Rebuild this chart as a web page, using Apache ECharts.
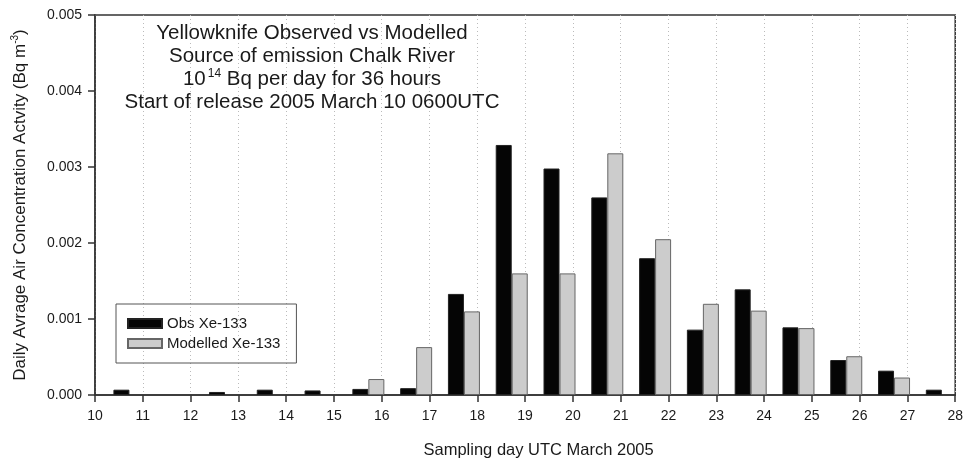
<!DOCTYPE html>
<html>
<head>
<meta charset="utf-8">
<script src="https://cdn.jsdelivr.net/npm/echarts@6/dist/echarts.min.js"></script>
<style>html,body{margin:0;padding:0;background:#fff}#c{width:966px;height:464px}</style>
</head>
<body>
<div id="c"></div>
<script>
// Sampling days (March 2005) and daily average Xe-133 concentrations (Bq m^-3)
var days = [10, 11, 12, 13, 14, 15, 16, 17, 18, 19, 20, 21, 22, 23, 24, 25, 26, 27];
var obsXe133 = [0.00007, 0, 0.00004, 0.00007, 0.00006, 0.00008, 0.00009, 0.00133, 0.00329, 0.00298, 0.0026, 0.0018, 0.00086, 0.00139, 0.00089, 0.00046, 0.00032, 0.00007];
var modelXe133 = [0, 0, 0, 0, 0, 0.00021, 0.00063, 0.0011, 0.0016, 0.0016, 0.00318, 0.00205, 0.0012, 0.00111, 0.00088, 0.00051, 0.00023, 0];
var xTicks = [10, 11, 12, 13, 14, 15, 16, 17, 18, 19, 20, 21, 22, 23, 24, 25, 26, 27, 28];
var yTicks = [0, 0.001, 0.002, 0.003, 0.004, 0.005];
var barOffset = 0.72; // bars for each day sit at day + offset in the original plot

function toPoints(values) {
  return days.map(function (d, i) { return [d + barOffset, values[i] === 0 ? '-' : values[i]]; });
}

var font = 'Liberation Sans, Arial, sans-serif';
var chart = echarts.init(document.getElementById('c'));
chart.setOption({
  animation: false,
  textStyle: { fontFamily: font },
  grid: { left: 95, right: 7, top: 15, bottom: 66, show: true, borderColor: '#333', borderWidth: 1.5, backgroundColor: 'transparent' },
  title: {
    text: '{a|Yellowknife Observed vs Modelled}\n{a|Source of emission Chalk River}\n{a|10}{s|14}{a| Bq per day for 36 hours}\n{a|Start of release 2005 March 10 0600UTC}',
    left: 307, top: 17, textAlign: 'center',
    textStyle: {
      fontWeight: 'normal',
      rich: {
        a: { fontSize: 20.5, lineHeight: 23, color: '#1a1a1a', fontFamily: font, fontWeight: 'normal' },
        s: { fontSize: 12, lineHeight: 23, verticalAlign: 'top', color: '#1a1a1a', fontFamily: font, fontWeight: 'normal', padding: [0, 0, 0, 2] }
      }
    }
  },
  legend: {
    orient: 'vertical', left: 116, top: 304,
    padding: [12, 16, 12, 11], itemGap: 5, itemWidth: 34, itemHeight: 9,
    borderColor: '#555', borderWidth: 1, icon: 'rect',
    textStyle: { fontSize: 15, color: '#1a1a1a', fontFamily: font },
    data: ['Obs Xe-133', 'Modelled Xe-133']
  },
  xAxis: {
    type: 'value', min: xTicks[0], max: xTicks[xTicks.length - 1], interval: 1,
    name: 'Sampling day UTC March 2005', nameLocation: 'middle', nameGap: 47,
    nameTextStyle: { fontSize: 16.5, color: '#1a1a1a', padding: [0, 0, 0, 27] },
    axisLine: { show: true, lineStyle: { color: '#333', width: 1.5 } },
    axisTick: { show: true, length: 7, lineStyle: { color: '#333', width: 1.5 } },
    axisLabel: { fontSize: 14, color: '#1a1a1a', margin: 14, showMinLabel: true, showMaxLabel: true },
    splitLine: { show: true, lineStyle: { color: '#bbb', type: [1, 3], width: 1 } }
  },
  yAxis: {
    type: 'value', min: yTicks[0], max: yTicks[yTicks.length - 1], interval: 0.001,
    name: '{t|Daily Avrage Air Concentration Actvity (Bq m}{s|-3}{t|)}',
    nameLocation: 'middle', nameGap: 65, nameRotate: 90,
    nameTextStyle: {
      rich: {
        t: { fontSize: 17, color: '#1a1a1a', fontFamily: font, lineHeight: 20 },
        s: { fontSize: 10, color: '#1a1a1a', fontFamily: font, verticalAlign: 'top', lineHeight: 20 }
      }
    },
    axisLine: { show: true, lineStyle: { color: '#333', width: 1.5 } },
    axisTick: { show: true, length: 7, lineStyle: { color: '#333', width: 1.5 } },
    axisLabel: { fontSize: 14, color: '#1a1a1a', margin: 13, formatter: function (v) { return v.toFixed(3); } },
    splitLine: { show: false }
  },
  series: [
    {
      name: 'Obs Xe-133', type: 'bar', barWidth: 16, barGap: '0%',
      itemStyle: { color: '#050505', borderColor: '#222', borderWidth: 1 },
      data: toPoints(obsXe133)
    },
    {
      name: 'Modelled Xe-133', type: 'bar', barWidth: 16, barGap: '0%',
      itemStyle: { color: '#cccccc', borderColor: '#666', borderWidth: 1 },
      data: toPoints(modelXe133)
    }
  ]
});
</script>
</body>
</html>
